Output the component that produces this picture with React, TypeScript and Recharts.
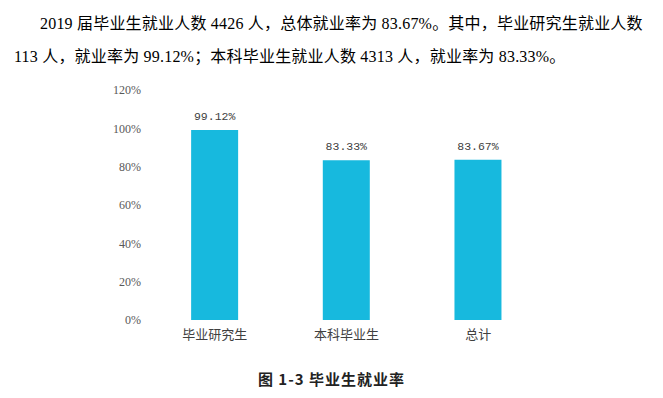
import { Bar, BarChart, LabelList, XAxis, YAxis } from 'recharts'

const categories = ['毕业研究生', '本科毕业生', '总计']
const rates = [99.12, 83.33, 83.67]
const yTicks = [0, 20, 40, 60, 80, 100, 120]

const data = categories.map((name, i) => ({ name, rate: rates[i] }))

const cjk = '"Liberation Serif", "Noto Sans CJK SC", serif'

export default function App() {
  return (
    <div style={{ position: 'absolute', left: 0, top: 0, width: 663, height: 398, background: '#fff', fontFamily: cjk, color: '#000' }}>
      <div style={{ position: 'absolute', left: 14, top: 7, fontSize: 16, lineHeight: '33px', whiteSpace: 'nowrap', letterSpacing: 0.2 }}>
        <div style={{ paddingLeft: 26 }}>2019 届毕业生就业人数 4426 人，总体就业率为 83.67%。其中，毕业研究生就业人数</div>
        <div>113 人，就业率为 99.12%；本科毕业生就业人数 4313 人，就业率为 83.33%。</div>
      </div>
      <div style={{ position: 'absolute', left: 0, top: 0 }}>
        <BarChart width={663} height={398} data={data} margin={{ top: 90, right: 119, bottom: 50, left: 99 }} barCategoryGap="32%">
          <XAxis dataKey="name" axisLine={false} tickLine={false} height={28} tickMargin={4}
            tick={{ fontSize: 13, fill: '#404040', fontFamily: '"Noto Sans CJK SC", sans-serif' }} />
          <YAxis domain={[0, 120]} ticks={yTicks} axisLine={false} tickLine={false} width={50}
            tickFormatter={(v) => `${v}%`} tick={{ fontSize: 12, fill: '#595959', fontFamily: '"Liberation Serif", serif' }} />
          <Bar dataKey="rate" fill="#17b9de" isAnimationActive={false}>
            <LabelList dataKey="rate" position="top" offset={10} formatter={(v: number) => `${v.toFixed(2)}%`}
              style={{ fontSize: 11.5, fill: '#404040', fontFamily: '"Liberation Mono", monospace' }} />
          </Bar>
        </BarChart>
      </div>
      <div style={{ position: 'absolute', left: 0, width: 663, top: 368, textAlign: 'center', fontSize: 15, fontWeight: 'bold', letterSpacing: 1, fontFamily: '"Noto Sans CJK SC", sans-serif', color: '#222' }}>
        图 1-3 毕业生就业率
      </div>
    </div>
  )
}
